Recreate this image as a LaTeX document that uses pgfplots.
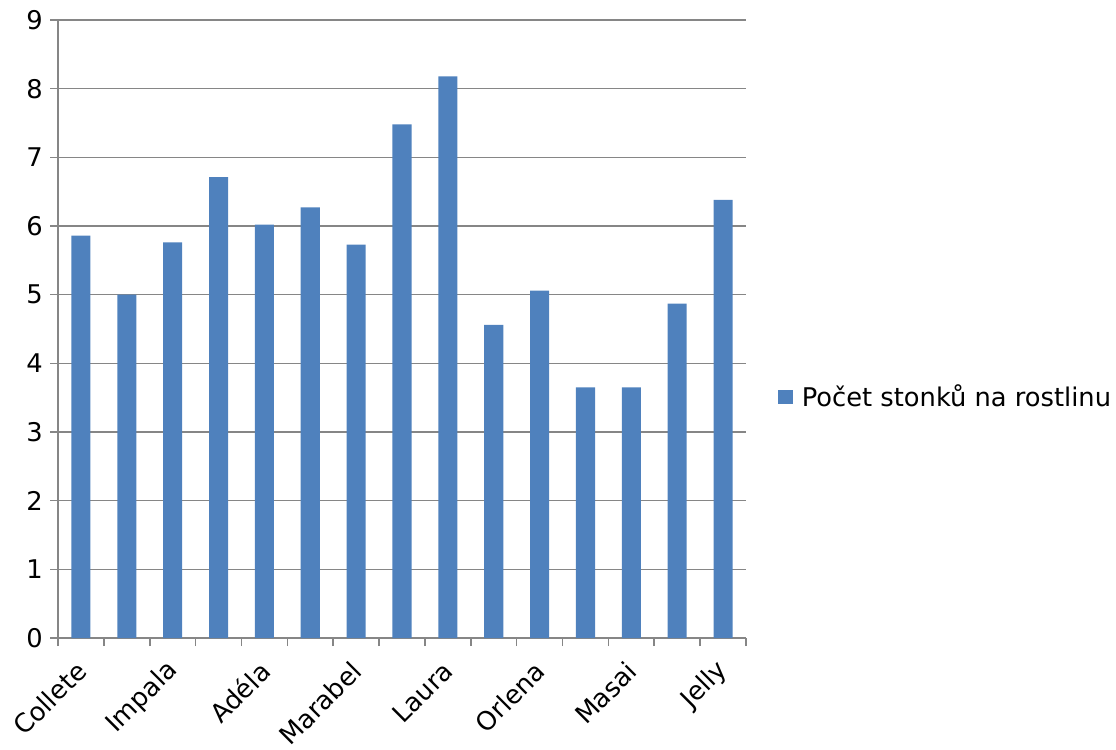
\documentclass[border=0pt]{standalone}
\usepackage{fontspec}
\setmainfont{DejaVu Sans}
\usepackage{pgfplots}
\pgfplotsset{compat=1.18}

\definecolor{barblue}{HTML}{4F81BD}
\definecolor{gridgray}{HTML}{868686}

\begin{document}
\begin{tikzpicture}
\begin{axis}[
  name=ax,
  scale only axis,
  width=516pt, height=463.5pt,
  xmin=-0.5, xmax=14.5,
  ymin=0, ymax=9,
  ytick={0,1,...,9},
  ymajorgrids,
  grid style={gridgray, line width=1.2pt},
  axis line style={gridgray, line width=1.2pt},
  axis x line*=bottom,
  axis y line*=left,
  tick align=outside,
  major tick length=6pt,
  tick style={gridgray, line width=1.2pt},
  xtick={-0.5,0.5,...,14.5},
  xticklabels={},
  extra x ticks={0,2,4,6,8,10,12,14},
  extra x tick labels={Collete,Impala,Adéla,Marabel,Laura,Orlena,Masai,Jelly},
  extra x tick style={
    major tick length=0pt,
    xticklabel style={xshift=3pt, yshift=-19pt, rotate=45, anchor=east},
  },
  /pgf/number format/assume math mode=true,
  yticklabel style={font=\fontsize{19.3}{23}\selectfont, xshift=-2pt},
  xticklabel style={font=\fontsize{19.3}{23}\selectfont},
  legend style={at={(1,0.39)}, xshift=24pt, anchor=west, draw=none,
    font=\fontsize{19.3}{23}\selectfont, inner sep=0pt},
  legend image code/.code={%
    \fill[barblue] (0pt,-5.6pt) rectangle (11.2pt,5.6pt);
    \path (15.7pt,0pt);},
]
\addplot[ybar, bar width=14.3pt, fill=barblue, draw=none, bar shift=0pt]
  coordinates {
    (0,5.86) (1,5.00) (2,5.76) (3,6.71) (4,6.02)
    (5,6.27) (6,5.73) (7,7.48) (8,8.18) (9,4.56)
    (10,5.06) (11,3.65) (12,3.65) (13,4.87) (14,6.38)
  };
\addlegendentry{Počet stonků na rostlinu}
\end{axis}
% page frame: 1116 x 749 units of 0.75pt around the plot area
\pgfresetboundingbox
\path ([xshift=-43.5pt, yshift=-83.25pt]ax.south west)
  rectangle ++(837pt, 561.75pt);
\end{tikzpicture}
\end{document}
